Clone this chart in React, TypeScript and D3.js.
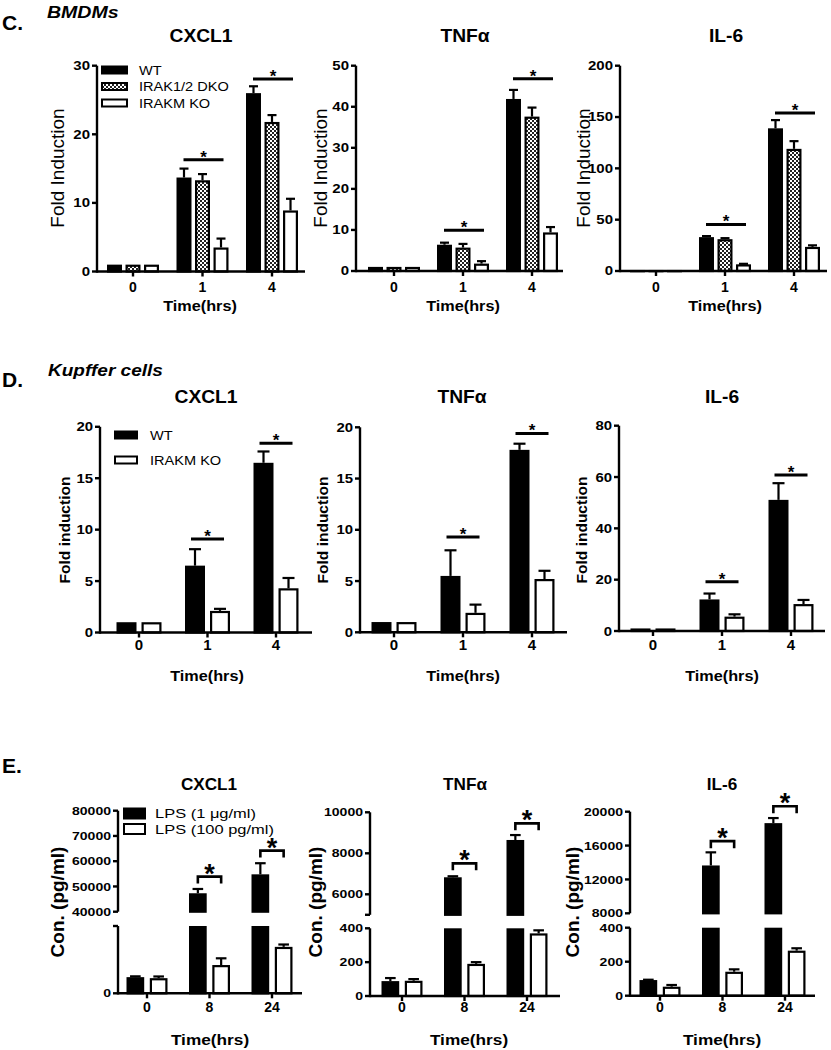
import React from "react";
import * as d3 from "d3";

const FONT = "'Liberation Sans', Arial, Helvetica, sans-serif";

// ---------------- categories ----------------
const timesCD = ["0", "1", "4"];
const timesE = ["0", "8", "24"];
const seriesC = ["WT", "IRAK1/2 DKO", "IRAKM KO"];
const seriesD = ["WT", "IRAKM KO"];
const seriesE = ["LPS (1 μg/ml)", "LPS (100 pg/ml)"];

// ---------------- C. BMDMs (fold induction: mean, SEM) ----------------
const cCxcl1WT = [1, 13.7, 26.0];
const cCxcl1WTErr = [0, 1.3, 1.0];
const cCxcl1DKO = [1, 13.3, 21.8];
const cCxcl1DKOErr = [0, 0.9, 1.0];
const cCxcl1KO = [1, 3.5, 8.9];
const cCxcl1KOErr = [0, 1.3, 1.7];

const cTnfWT = [1, 6.4, 41.9];
const cTnfWTErr = [0, 0.5, 2.2];
const cTnfDKO = [1, 5.7, 37.6];
const cTnfDKOErr = [0, 0.9, 2.2];
const cTnfKO = [1, 1.8, 9.4];
const cTnfKOErr = [0, 0.6, 1.3];

const cIl6WT = [1, 33, 139];
const cIl6WTErr = [0, 1, 8];
const cIl6DKO = [1, 31, 119];
const cIl6DKOErr = [0, 1, 7.5];
const cIl6KO = [1, 6.5, 23.5];
const cIl6KOErr = [0, 0.5, 1.5];

// ---------------- D. Kupffer cells ----------------
const dCxcl1WT = [1, 6.5, 16.5];
const dCxcl1WTErr = [0, 1.6, 1.1];
const dCxcl1KO = [1, 2.1, 4.3];
const dCxcl1KOErr = [0, 0.2, 1.0];

const dTnfWT = [1, 5.5, 17.8];
const dTnfWTErr = [0, 2.5, 0.6];
const dTnfKO = [1, 1.9, 5.2];
const dTnfKOErr = [0, 0.8, 0.8];

const dIl6WT = [1, 12.3, 51.1];
const dIl6WTErr = [0, 2.3, 6.5];
const dIl6KO = [1, 5.6, 10.5];
const dIl6KOErr = [0, 0.9, 1.6];

// ---------------- E. LPS dose (pg/ml) ----------------
const eCxcl1Hi = [2400, 47300, 54800];
const eCxcl1HiErr = [120, 1700, 4400];
const eCxcl1Lo = [2250, 4200, 6900];
const eCxcl1LoErr = [250, 1000, 350];

const eTnfHi = [88, 6830, 8650];
const eTnfHiErr = [18, 50, 240];
const eTnfLo = [90, 190, 370];
const eTnfLoErr = [10, 10, 18];

const eIl6Hi = [92, 13650, 18650];
const eIl6HiErr = [2, 1550, 600];
const eIl6Lo = [53, 141, 265];
const eIl6LoErr = [10, 14, 14];

// ---------------- tick labels ----------------
const cCxcl1Ticks = [0, 10, 20, 30];
const cTnfTicks = [0, 10, 20, 30, 40, 50];
const cIl6Ticks = [0, 50, 100, 150, 200];
const dCxcl1Ticks = [0, 5, 10, 15, 20];
const dTnfTicks = [0, 5, 10, 15, 20];
const dIl6Ticks = [0, 20, 40, 60, 80];
const eCxcl1LowTicks = [0];
const eCxcl1UpTicks = [40000, 50000, 60000, 70000, 80000];
const eTnfLowTicks = [0, 200, 400];
const eTnfUpTicks = [6000, 8000, 10000];
const eIl6LowTicks = [0, 200, 400];
const eIl6UpTicks = [8000, 12000, 16000, 20000];

// significance marks: group index and height (data units)
const cCxcl1Sig = [{ g: 1, v: 16.3 }, { g: 2, v: 28.05 }];
const cTnfSig = [{ g: 1, v: 9.9 }, { g: 2, v: 46.8 }];
const cIl6Sig = [{ g: 1, v: 45.3 }, { g: 2, v: 154 }];
const dCxcl1Sig = [{ g: 1, v: 9.1 }, { g: 2, v: 18.4 }];
const dTnfSig = [{ g: 1, v: 9.3 }, { g: 2, v: 19.4 }];
const dIl6Sig = [{ g: 1, v: 19.2 }, { g: 2, v: 60.8 }];
const eCxcl1Sig = [{ g: 1, v: 53900 }, { g: 2, v: 64200 }];
const eTnfSig = [{ g: 1, v: 7510 }, { g: 2, v: 9460 }];
const eIl6Sig = [{ g: 1, v: 16520 }, { g: 2, v: 20650 }];

// ---------------- helpers ----------------
function T(props: any) {
  const { x, y, size = 12, weight = "normal", anchor = "start", sx = 1, italic = false, rotate = 0, children } = props;
  return (
    <text
      transform={`translate(${x},${y}) rotate(${rotate}) scale(${sx},1)`}
      fontSize={size}
      fontWeight={weight}
      textAnchor={anchor}
      fontStyle={italic ? "italic" : "normal"}
      fontFamily={FONT}
      fill="#000"
    >
      {children}
    </text>
  );
}

const rowC = {
  titleY: 42, titleSize: 18.5, tickBase: 292, xTickSize: 14, timeY: 311, timeSize: 14.5, timeSx: 1.12,
  yTickSize: 12, yTickSx: 1.25, ylabSize: 19, ylabWeight: "normal", ylabCY: 168,
  half: 26, pad: 0.19, sigL: -19, sigR: 21, starSize: 17, bracket: false,
};
const rowD = {
  titleY: 403, titleSize: 18.5, tickBase: 650, xTickSize: 15, timeY: 681, timeSize: 14.5, timeSx: 1.12,
  yTickSize: 13, yTickSx: 1.15, ylabSize: 15.5, ylabWeight: "bold", ylabCY: 530,
  half: 22.5, pad: 0.2, sigL: -16.5, sigR: 16.5, starSize: 17, bracket: false,
};
const rowE = {
  titleY: 790, titleSize: 16.5, tickBase: 1012, xTickSize: 14, timeY: 1045, timeSize: 15, timeSx: 1.15,
  yTickSize: 11.5, yTickSx: 1.22, ylabSize: 19, ylabWeight: "bold", ylabCY: 902,
  half: 20.5, pad: 0.24, sigL: 0, sigR: 0, starSize: 27, bracket: true,
};

function Panel(p: any) {
  const { L, st, groups, series, means, errs, fills, lowTicks, upTicks, unlabeled = [], sigs, title, ylabel, legend } = p;
  const x = d3.scalePoint<string>().domain(groups).range([L.c0, L.c2]);
  const sub = d3.scaleBand<number>().domain(d3.range(series.length)).range([-st.half, st.half]).paddingInner(st.pad);
  const bw = sub.bandwidth();
  const yLow = d3.scaleLinear().domain([0, L.lowMax]).range([L.y0, L.lowTop]);
  const yUp = L.up ? d3.scaleLinear().domain([L.up.min, L.up.max]).range([L.up.bottom, L.up.top]) : null;
  const Y = (v: number) => (yUp && v > L.lowMax ? yUp(v) : yLow(v));
  const sw = 2.2;
  const capW = bw * 0.6;

  const bars: any[] = [];
  const errBars: any[] = [];
  series.forEach((s: string, si: number) => {
    groups.forEach((g: string, gi: number) => {
      const v = means[si][gi];
      const e = errs[si][gi];
      const left = (x(g) as number) + (sub(si) as number);
      const cx = left + bw / 2;
      const segs: [number, number][] = [];
      if (yUp && v > L.lowMax) {
        segs.push([L.lowTop, L.y0]);
        segs.push([yUp(v), L.up.bottom]);
      } else {
        segs.push([yLow(v), L.y0]);
      }
      segs.forEach(([t, b], k) =>
        bars.push(
          <rect
            key={`b${si}-${gi}-${k}`}
            x={left + sw / 2}
            y={t + sw / 2}
            width={Math.max(bw - sw, 0.1)}
            height={Math.max(b - t - sw / 2, 0.1)}
            fill={fills[si]}
            stroke="#000"
            strokeWidth={sw}
          />
        )
      );
      if (e > 0) {
        const yt = Y(v);
        const ye = Y(v + e);
        errBars.push(
          <g key={`e${si}-${gi}`} stroke="#000" strokeWidth={2.2}>
            <line x1={cx} x2={cx} y1={yt} y2={ye} />
            <line x1={cx - capW / 2} x2={cx + capW / 2} y1={ye} y2={ye} />
          </g>
        );
      }
    });
  });

  const axW = 2.4;
  const tk = 5;
  const tickEl = (v: number, label: boolean, key: string) => {
    const yy = Y(v);
    return (
      <g key={key}>
        <line x1={L.axisX - tk} x2={L.axisX} y1={yy} y2={yy} stroke="#000" strokeWidth={axW} />
        {label && (
          <T x={L.axisX - tk - 2} y={yy + st.yTickSize * 0.36} size={st.yTickSize} weight="bold" anchor="end" sx={st.yTickSx}>
            {d3.format("d")(v)}
          </T>
        )}
      </g>
    );
  };

  const sigEls = sigs.map((s: any, i: number) => {
    const g = groups[s.g];
    const yy = Y(s.v);
    const c = x(g) as number;
    if (st.bracket) {
      const x1 = c + (sub(0) as number) + bw / 2;
      const x2 = c + (sub(series.length - 1) as number) + bw / 2;
      return (
        <g key={`s${i}`}>
          <path d={`M${x1},${yy + 7}V${yy}H${x2}V${yy + 7}`} fill="none" stroke="#000" strokeWidth={2.6} />
          <T x={(x1 + x2) / 2} y={yy + 6} size={st.starSize} weight="bold" anchor="middle">*</T>
        </g>
      );
    }
    return (
      <g key={`s${i}`}>
        <line x1={c + st.sigL} x2={c + st.sigR} y1={yy} y2={yy} stroke="#000" strokeWidth={3} />
        <T x={c + (st.sigL + st.sigR) / 2} y={yy + 3} size={st.starSize} weight="bold" anchor="middle">*</T>
      </g>
    );
  });

  return (
    <g>
      <T x={L.titleX} y={st.titleY} size={st.titleSize} weight="bold" anchor="middle" sx={1.04}>{title}</T>
      <T x={L.ylabX + st.ylabSize * 0.36} y={st.ylabCY} size={st.ylabSize} weight={st.ylabWeight} anchor="middle" rotate={-90}>
        {ylabel}
      </T>
      {bars}
      {errBars}
      {/* y axis */}
      <line x1={L.axisX} x2={L.axisX} y1={L.y0 + axW / 2} y2={L.lowTop} stroke="#000" strokeWidth={axW} />
      {yUp && <line x1={L.axisX} x2={L.axisX} y1={L.up.bottom} y2={L.up.top} stroke="#000" strokeWidth={axW} />}
      {lowTicks.map((v: number, i: number) => tickEl(v, true, `lt${i}`))}
      {yUp && upTicks.map((v: number, i: number) => tickEl(v, true, `ut${i}`))}
      {unlabeled.map((v: number, i: number) => tickEl(v, false, `nt${i}`))}
      {/* x axis */}
      <line x1={L.axisX} x2={L.xEnd} y1={L.y0} y2={L.y0} stroke="#000" strokeWidth={axW} />
      {groups.map((g: string) => (
        <g key={`x${g}`}>
          <line x1={x(g)} x2={x(g)} y1={L.y0} y2={L.y0 + tk} stroke="#000" strokeWidth={axW} />
          <T x={x(g)} y={st.tickBase} size={st.xTickSize} weight="bold" anchor="middle">{g}</T>
        </g>
      ))}
      <T x={L.timeX} y={st.timeY} size={st.timeSize} weight="bold" anchor="middle" sx={st.timeSx}>Time(hrs)</T>
      {sigEls}
      {legend &&
        series.map((s: string, i: number) => {
          const cy = legend.y + i * legend.dy;
          return (
            <g key={`lg${i}`}>
              <rect
                x={legend.x + 1}
                y={cy - legend.h / 2 + 1}
                width={legend.w - 2}
                height={legend.h - 2}
                fill={fills[i]}
                stroke="#000"
                strokeWidth={2}
              />
              <T x={legend.tx} y={cy + legend.size * 0.36} size={legend.size} sx={legend.sx}>{s}</T>
            </g>
          );
        })}
    </g>
  );
}

// ---------------- layout (pixel placement only) ----------------
const LC1 = { axisX: 97, xEnd: 305, c0: 133, c2: 272, y0: 271.5, lowTop: 65.7, lowMax: 30, ylabX: 57, titleX: 201, timeX: 200 };
const LC2 = { axisX: 356, xEnd: 563, c0: 394, c2: 532, y0: 271, lowTop: 65.7, lowMax: 50, ylabX: 320, titleX: 465, timeX: 463 };
const LC3 = { axisX: 620, xEnd: 827, c0: 656, c2: 794, y0: 271, lowTop: 65.7, lowMax: 200, ylabX: 583, titleX: 726, timeX: 725 };
const LD1 = { axisX: 100, xEnd: 312, c0: 139, c2: 276, y0: 632.5, lowTop: 426.8, lowMax: 20, ylabX: 64, titleX: 206, timeX: 207 };
const LD2 = { axisX: 360, xEnd: 567, c0: 394, c2: 532, y0: 632.3, lowTop: 427.3, lowMax: 20, ylabX: 322, titleX: 462, timeX: 463 };
const LD3 = { axisX: 619, xEnd: 825, c0: 653, c2: 791, y0: 631, lowTop: 425.7, lowMax: 80, ylabX: 581, titleX: 722, timeX: 722 };
const LE1 = {
  axisX: 118, xEnd: 302, c0: 147, c2: 272, y0: 993.3, lowTop: 926, lowMax: 10000,
  up: { min: 40000, max: 80000, bottom: 911.7, top: 810.7 }, ylabX: 57, titleX: 209, timeX: 210,
};
const LE2 = {
  axisX: 370, xEnd: 560, c0: 402, c2: 527, y0: 996, lowTop: 928.3, lowMax: 400,
  up: { min: 5000, max: 10000, bottom: 914.8, top: 812.3 }, ylabX: 315, titleX: 465, timeX: 469,
};
const LE3 = {
  axisX: 630, xEnd: 815, c0: 660, c2: 785, y0: 995.7, lowTop: 927.7, lowMax: 400,
  up: { min: 8000, max: 20000, bottom: 913.3, top: 811.7 }, ylabX: 572, titleX: 722, timeX: 722,
};

const fillsC = ["#000", "url(#check)", "#fff"];
const fillsDE = ["#000", "#fff"];

export default function App() {
  return (
    <svg width={831} height={1050} style={{ position: "absolute", left: 0, top: 0, background: "#fff" }}>
      <defs>
        <pattern id="check" width={4} height={4} patternUnits="userSpaceOnUse">
          <rect width={4} height={4} fill="#fff" />
          <rect width={2} height={2} fill="#222" />
          <rect x={2} y={2} width={2} height={2} fill="#222" />
        </pattern>
      </defs>
      <rect width={831} height={1050} fill="#fff" />

      {/* Panel headings */}
      <T x={2} y={30} size={21} weight="bold">C.</T>
      <T x={47} y={18} size={17} weight="bold" italic sx={1.15}>BMDMs</T>
      <T x={2} y={387} size={21} weight="bold">D.</T>
      <T x={48} y={376} size={17} weight="bold" italic sx={1.12}>Kupffer cells</T>
      <T x={2} y={773} size={21} weight="bold">E.</T>

      {/* C */}
      <Panel
        L={LC1} st={rowC} groups={timesCD} series={seriesC} fills={fillsC}
        means={[cCxcl1WT, cCxcl1DKO, cCxcl1KO]} errs={[cCxcl1WTErr, cCxcl1DKOErr, cCxcl1KOErr]}
        lowTicks={cCxcl1Ticks} sigs={cCxcl1Sig} title="CXCL1" ylabel="Fold Induction"
        legend={{ x: 101, y: 70, dy: 16.5, w: 27, h: 9, tx: 139, size: 13, sx: 1.12 }}
      />
      <Panel
        L={LC2} st={rowC} groups={timesCD} series={seriesC} fills={fillsC}
        means={[cTnfWT, cTnfDKO, cTnfKO]} errs={[cTnfWTErr, cTnfDKOErr, cTnfKOErr]}
        lowTicks={cTnfTicks} sigs={cTnfSig} title={"TNFα"} ylabel="Fold Induction"
      />
      <Panel
        L={LC3} st={rowC} groups={timesCD} series={seriesC} fills={fillsC}
        means={[cIl6WT, cIl6DKO, cIl6KO]} errs={[cIl6WTErr, cIl6DKOErr, cIl6KOErr]}
        lowTicks={cIl6Ticks} sigs={cIl6Sig} title="IL-6" ylabel="Fold Induction"
      />

      {/* D */}
      <Panel
        L={LD1} st={rowD} groups={timesCD} series={seriesD} fills={fillsDE}
        means={[dCxcl1WT, dCxcl1KO]} errs={[dCxcl1WTErr, dCxcl1KOErr]}
        lowTicks={dCxcl1Ticks} sigs={dCxcl1Sig} title="CXCL1" ylabel="Fold induction"
        legend={{ x: 114, y: 435, dy: 25, w: 24, h: 9, tx: 150, size: 13, sx: 1.12 }}
      />
      <Panel
        L={LD2} st={rowD} groups={timesCD} series={seriesD} fills={fillsDE}
        means={[dTnfWT, dTnfKO]} errs={[dTnfWTErr, dTnfKOErr]}
        lowTicks={dTnfTicks} sigs={dTnfSig} title={"TNFα"} ylabel="Fold induction"
      />
      <Panel
        L={LD3} st={rowD} groups={timesCD} series={seriesD} fills={fillsDE}
        means={[dIl6WT, dIl6KO]} errs={[dIl6WTErr, dIl6KOErr]}
        lowTicks={dIl6Ticks} sigs={dIl6Sig} title="IL-6" ylabel="Fold induction"
      />

      {/* E */}
      <Panel
        L={LE1} st={rowE} groups={timesE} series={seriesE} fills={fillsDE}
        means={[eCxcl1Hi, eCxcl1Lo]} errs={[eCxcl1HiErr, eCxcl1LoErr]}
        lowTicks={eCxcl1LowTicks} upTicks={eCxcl1UpTicks} unlabeled={[10000]}
        sigs={eCxcl1Sig} title="CXCL1" ylabel="Con. (pg/ml)"
        legend={{ x: 123, y: 813.5, dy: 15.5, w: 23, h: 12, tx: 155, size: 13.5, sx: 1.22 }}
      />
      <Panel
        L={LE2} st={rowE} groups={timesE} series={seriesE} fills={fillsDE}
        means={[eTnfHi, eTnfLo]} errs={[eTnfHiErr, eTnfLoErr]}
        lowTicks={eTnfLowTicks} upTicks={eTnfUpTicks} unlabeled={[5000]}
        sigs={eTnfSig} title={"TNFα"} ylabel="Con. (pg/ml)"
      />
      <Panel
        L={LE3} st={rowE} groups={timesE} series={seriesE} fills={fillsDE}
        means={[eIl6Hi, eIl6Lo]} errs={[eIl6HiErr, eIl6LoErr]}
        lowTicks={eIl6LowTicks} upTicks={eIl6UpTicks}
        sigs={eIl6Sig} title="IL-6" ylabel="Con. (pg/ml)"
      />
    </svg>
  );
}
